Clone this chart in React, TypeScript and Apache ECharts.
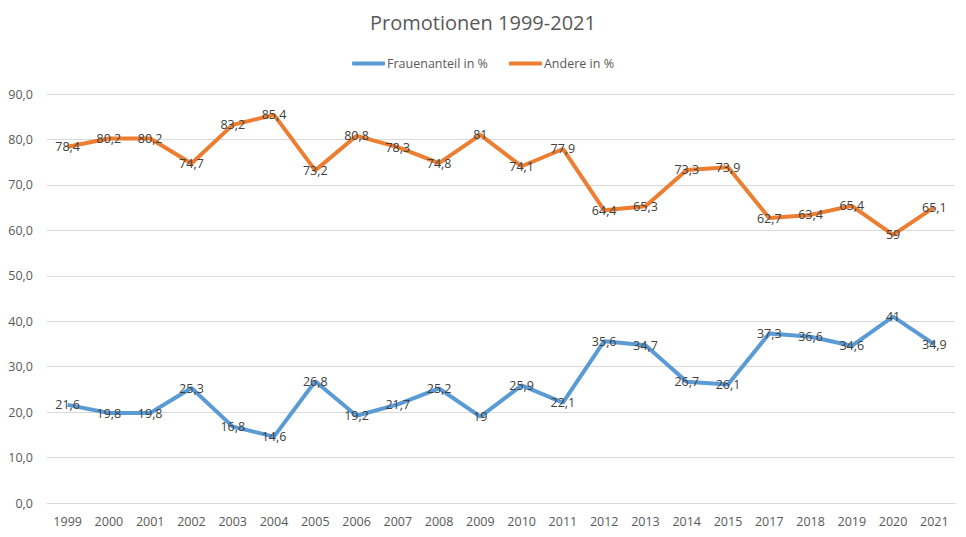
import React, { useEffect, useRef } from "react";
import * as echarts from "echarts";

const categories = ["1999","2000","2001","2002","2003","2004","2005","2006","2007","2008","2009","2010","2011","2012","2013","2014","2015","2017","2018","2019","2020","2021"];
const frauen = [21.6, 19.8, 19.8, 25.3, 16.8, 14.6, 26.8, 19.2, 21.7, 25.2, 19, 25.9, 22.1, 35.6, 34.7, 26.7, 26.1, 37.3, 36.6, 34.6, 41, 34.9];
const andere = [78.4, 80.2, 80.2, 74.7, 83.2, 85.4, 73.2, 80.8, 78.3, 74.8, 81, 74.1, 77.9, 64.4, 65.3, 73.3, 73.9, 62.7, 63.4, 65.4, 59, 65.1];

const FONT = "'Open Sans', 'Noto Sans', sans-serif";
const fmt = (v: number) => String(v).replace(".", ",");

export default function App() {
  const ref = useRef<HTMLDivElement>(null);
  useEffect(() => {
    if (!ref.current) return;
    const chart = echarts.init(ref.current, null, { renderer: "svg" });
    const label = {
      show: true,
      position: "inside" as const,
      color: "#404040",
      fontSize: 12.5,
      fontFamily: FONT,
      formatter: (p: any) => fmt(p.value),
    };
    chart.setOption({
      animation: false,
      backgroundColor: "#ffffff",
      title: {
        text: "Promotionen 1999-2021",
        left: "center",
        top: 7,
        textStyle: { color: "#595959", fontSize: 20, fontWeight: "normal", fontFamily: FONT },
      },
      legend: {
        top: 52,
        left: "center",
        itemWidth: 33,
        itemHeight: 4,
        itemGap: 21,
        icon: "roundRect",
        textStyle: { color: "#595959", fontSize: 12.5, fontFamily: FONT, padding: [0, 0, 0, -3] },
        data: ["Frauenanteil in %", "Andere in %"],
      },
      grid: { left: 47, right: 11, top: 94, bottom: 34, containLabel: false },
      xAxis: {
        type: "category",
        data: categories,
        boundaryGap: true,
        axisLine: { lineStyle: { color: "#d9d9d9" } },
        axisTick: { show: false },
        axisLabel: { color: "#595959", fontSize: 12.5, fontFamily: FONT, margin: 12 },
      },
      yAxis: {
        type: "value",
        min: 0,
        max: 90,
        interval: 10,
        axisLine: { show: false },
        axisTick: { show: false },
        splitLine: { lineStyle: { color: "#d9d9d9" } },
        axisLabel: { color: "#595959", fontSize: 12.5, fontFamily: FONT, margin: 14, formatter: (v: number) => v.toFixed(1).replace(".", ",") },
      },
      series: [
        {
          name: "Frauenanteil in %",
          type: "line",
          data: frauen,
          showSymbol: true,
          symbol: "circle",
          symbolSize: 0.1,
          lineStyle: { color: "#5B9BD5", width: 4 },
          itemStyle: { color: "#5B9BD5" },
          label,
          labelLayout: { hideOverlap: false },
        },
        {
          name: "Andere in %",
          type: "line",
          data: andere,
          showSymbol: true,
          symbol: "circle",
          symbolSize: 0.1,
          lineStyle: { color: "#ED7D31", width: 4 },
          itemStyle: { color: "#ED7D31" },
          label,
          labelLayout: { hideOverlap: false },
        },
      ],
    });
    return () => chart.dispose();
  }, []);
  return <div ref={ref} style={{ position: "fixed", left: 0, top: 0, width: 966, height: 537 }} />;
}
